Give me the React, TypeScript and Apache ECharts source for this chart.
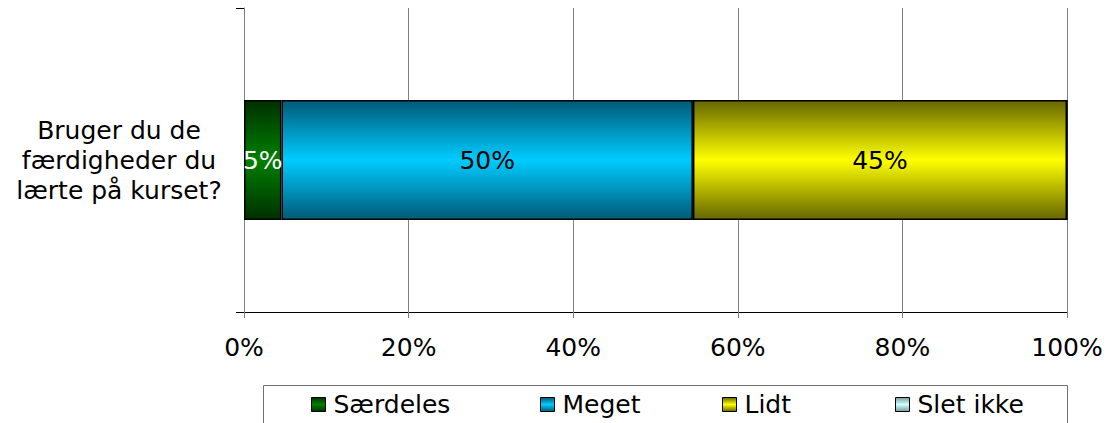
import React, { useEffect, useRef } from "react";
import * as echarts from "echarts";

const categories = ["Bruger du de\nfærdigheder du\nlærte på kurset?"];
const seriesNames = ["Særdeles", "Meget", "Lidt", "Slet ikke"];
const saerdeles = [4.55];
const meget = [50];
const lidt = [45.45];
const sletIkke = [0];
const xTicks = [0, 20, 40, 60, 80, 100];

const FONT = "DejaVu Sans";

const grad = (dark: string, bright: string) =>
  new echarts.graphic.LinearGradient(0, 0, 0, 1, [
    { offset: 0, color: dark },
    { offset: 0.5, color: bright },
    { offset: 1, color: dark },
  ]);

export default function App() {
  const ref = useRef<HTMLDivElement>(null);
  useEffect(() => {
    if (!ref.current) return;
    const chart = echarts.init(ref.current, null, { renderer: "svg" });
    const colors = [
      { c: grad("#003000", "#008000"), label: "#ffffff" },
      { c: grad("#005a78", "#00ccff"), label: "#000000" },
      { c: grad("#666600", "#ffff00"), label: "#000000" },
      { c: grad("#7a9a9a", "#ccffff"), label: "#000000" },
    ];
    const datas = [saerdeles, meget, lidt, sletIkke];
    const legendLefts = [311, 540, 722, 895];
    chart.setOption({
      animation: false,
      textStyle: { fontFamily: FONT },
      grid: { left: 244, right: 44, top: 8, bottom: 111 },
      xAxis: {
        type: "value",
        min: xTicks[0],
        max: xTicks[xTicks.length - 1],
        interval: 20,
        axisLine: { show: true, lineStyle: { color: "#000000", width: 1 } },
        axisTick: { show: true, length: 6, lineStyle: { color: "#808080" } },
        splitLine: { show: true, lineStyle: { color: "#808080", width: 1 } },
        axisLabel: {
          formatter: "{value}%",
          fontSize: 25,
          color: "#000000",
          fontFamily: FONT,
          margin: 23,
        },
      },
      yAxis: {
        type: "category",
        data: categories,
        axisLine: { show: true, lineStyle: { color: "#808080", width: 1 } },
        axisTick: { show: true, length: 8, lineStyle: { color: "#000000" } },
        axisLabel: {
          fontSize: 25,
          lineHeight: 30,
          color: "#000000",
          fontFamily: FONT,
          align: "center",
          margin: 125,
        },
      },
      legend: seriesNames.map((n, i) => ({
        data: [n],
        left: legendLefts[i],
        top: 392,
        icon: "rect",
        itemWidth: 14,
        itemHeight: 14,
        itemGap: 0,
        padding: 0,
        itemStyle: { borderColor: "#000000", borderWidth: 1 },
        textStyle: { fontSize: 25, color: "#000000", fontFamily: FONT, padding: [0, 0, 0, 3] },
      })),
      graphic: [
        {
          type: "rect",
          shape: { x: 263.5, y: 385.5, width: 804, height: 60 },
          style: { fill: "none", stroke: "#707070", lineWidth: 1 },
          silent: true,
        },
      ],
      series: seriesNames.map((n, i) => ({
        name: n,
        type: "bar",
        stack: "total",
        barWidth: 120,
        data: datas[i],
        itemStyle: { color: colors[i].c, borderColor: "#000000", borderWidth: 1.5 },
        label: {
          show: true,
          position: "inside",
          fontSize: 25,
          fontFamily: FONT,
          color: colors[i].label,
          formatter: (p: any) => (p.value > 0 ? Math.round(p.value) + "%" : ""),
        },
      })),
    });
    return () => chart.dispose();
  }, []);
  return (
    <div
      ref={ref}
      style={{ position: "absolute", left: 0, top: 0, width: 1111, height: 423, background: "#ffffff" }}
    />
  );
}
